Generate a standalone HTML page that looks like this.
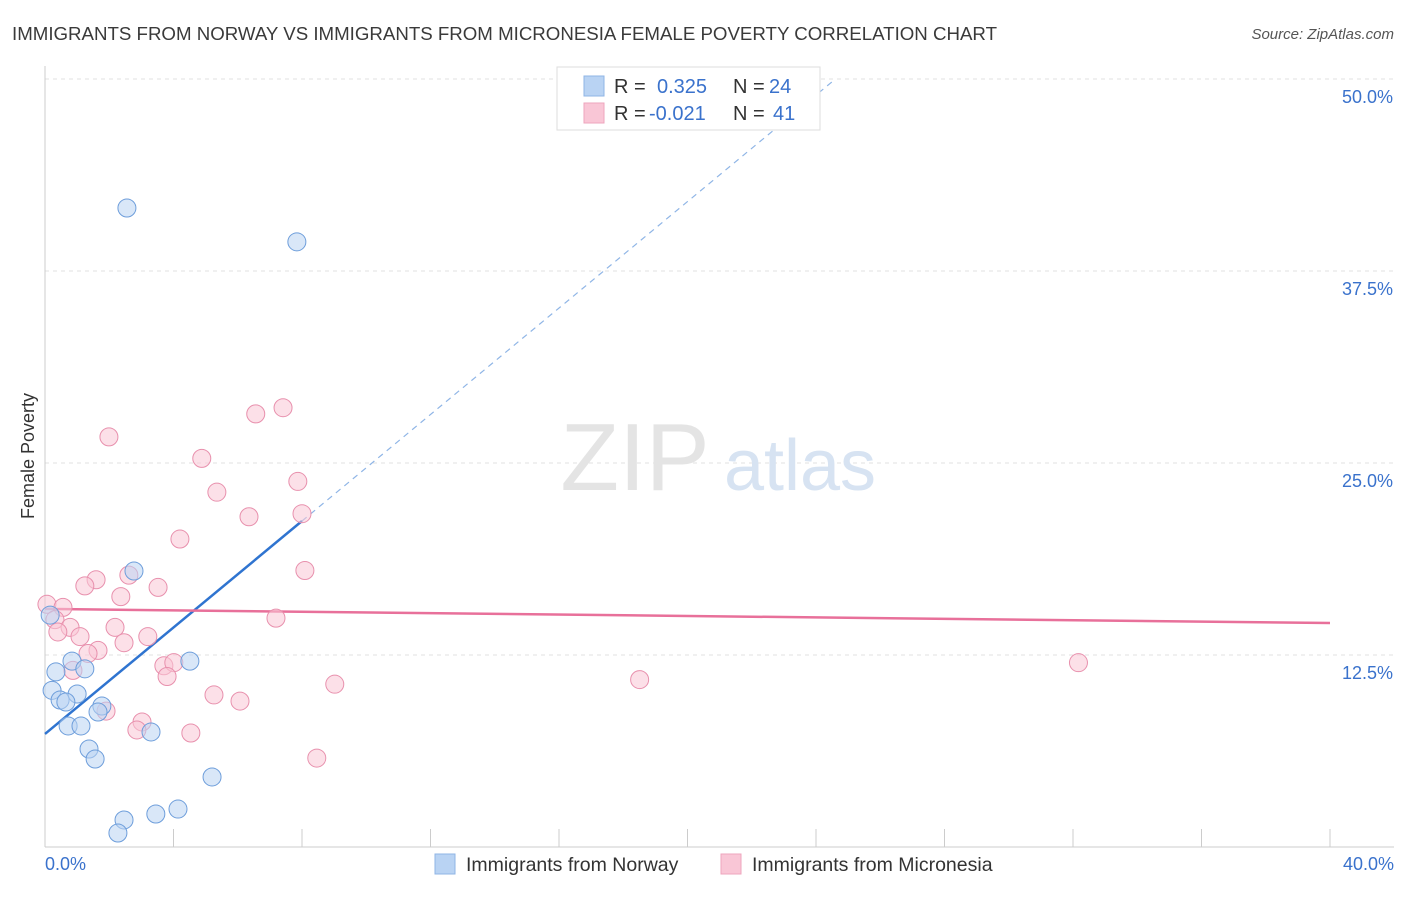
<!DOCTYPE html>
<html><head><meta charset="utf-8">
<style>
body{margin:0;background:#fff;font-family:"Liberation Sans",sans-serif;}
svg text{font-family:"Liberation Sans",sans-serif;}
</style></head>
<body>
<svg id="chart" width="1406" height="892" xmlns="http://www.w3.org/2000/svg">
<text x="12" y="40" font-size="18.7" fill="#3a3a3a" textLength="985">IMMIGRANTS FROM NORWAY VS IMMIGRANTS FROM MICRONESIA FEMALE POVERTY CORRELATION CHART</text>
<text x="1394" y="39" font-size="15" fill="#555" text-anchor="end" font-style="italic">Source: ZipAtlas.com</text>
<g id="grid"></g>
<g>
<text x="635" y="490" font-size="96" fill="#e4e4e4" font-family="Liberation Serif,serif" text-anchor="middle">ZIP</text>
<text x="800" y="490" font-size="72" fill="#d7e3f2" text-anchor="middle">atlas</text>
</g>
<g id="axes"></g>
<g id="trends"></g>
<g id="points"></g>
<text transform="translate(34,456) rotate(-90)" font-size="18" fill="#333" text-anchor="middle">Female Poverty</text>
<g>
<rect x="557" y="67" width="263" height="63" fill="#fff" stroke="#ddd"/>
<rect x="584" y="76" width="20" height="20" fill="#b9d3f3" stroke="#8fb5e6"/>
<rect x="584" y="103" width="20" height="20" fill="#f9c6d6" stroke="#eea5bd"/>
<text x="614" y="93" font-size="20" fill="#333">R = </text>
<text x="657" y="93" font-size="20" fill="#3a72cc">0.325</text>
<text x="733" y="93" font-size="20" fill="#333">N = </text>
<text x="769" y="93" font-size="20" fill="#3a72cc">24</text>
<text x="614" y="120" font-size="20" fill="#333">R = </text>
<text x="649" y="120" font-size="20" fill="#3a72cc">-0.021</text>
<text x="733" y="120" font-size="20" fill="#333">N = </text>
<text x="773" y="120" font-size="20" fill="#3a72cc">41</text>
</g>
<g>
<rect x="435" y="854" width="20" height="20" fill="#b9d3f3" stroke="#8fb5e6"/>
<text x="466" y="871" font-size="19.5" fill="#333">Immigrants from Norway</text>
<rect x="721" y="854" width="20" height="20" fill="#f9c6d6" stroke="#eea5bd"/>
<text x="752" y="871" font-size="19.5" fill="#333">Immigrants from Micronesia</text>
</g>
</svg>
<script>
const yTicks=[12.5,25,37.5,50];
const yTickLabels=["12.5%","25.0%","37.5%","50.0%"];
const xTicks=[0,4,8,12,16,20,24,28,32,36,40];
const norwayX=[2.55,7.84,2.77,4.51,0.84,1.24,0.34,0.22,1.0,0.47,0.65,1.77,1.65,0.72,1.12,3.30,1.37,1.56,5.20,4.14,3.45,2.46,2.27,0.16];
const norwayY=[41.6,39.4,17.97,12.1,12.1,11.6,11.4,10.2,9.96,9.57,9.44,9.18,8.79,7.88,7.88,7.49,6.38,5.73,4.56,2.47,2.15,1.76,0.91,15.1];
const micronesiaX=[1.99,6.56,7.41,4.88,5.35,7.87,6.35,8.0,4.2,8.09,2.61,1.59,1.24,3.52,2.36,0.06,0.56,0.31,7.19,0.78,0.4,2.18,1.09,3.2,2.46,1.65,1.34,3.7,4.01,0.87,3.8,5.26,6.07,9.02,18.51,32.17,1.9,3.02,2.86,4.54,8.46];
const micronesiaY=[26.7,28.2,28.6,25.3,23.1,23.8,21.5,21.7,20.05,18.0,17.7,17.4,17.0,16.9,16.3,15.8,15.6,14.8,14.9,14.3,14.0,14.3,13.7,13.7,13.3,12.8,12.6,11.8,12.0,11.5,11.1,9.9,9.5,10.6,10.9,12.0,8.85,8.14,7.62,7.42,5.79];
const norwayTrend=[7.36,1.733];
const micronesiaTrend=[15.5,-0.023];
const NS="http://www.w3.org/2000/svg";
const xs=v=>45+v*(1285/40);
const ys=v=>847-v*15.36;
function mk(tag,parent,attrs){const e=document.createElementNS(NS,tag);for(const k in attrs)e.setAttribute(k,attrs[k]);document.getElementById(parent).appendChild(e);return e;}
yTicks.forEach((t,i)=>{
 const l=mk('line','grid',{x1:45,x2:1394,y1:ys(t),y2:ys(t),stroke:'#e2e2e2','stroke-dasharray':'4,4'});
 
 
 const tx=mk('text','axes',{x:1393,y:ys(t)+24,'font-size':18,fill:'#3a72cc','text-anchor':'end'});
 tx.textContent=yTickLabels[i];
 
 
});
const ax=mk('line','axes',{x1:45,x2:45,y1:66,y2:847,stroke:'#ccc'});


const bx=mk('line','axes',{x1:45,x2:1394,y1:847,y2:847,stroke:'#ccc'});


xTicks.forEach(t=>{
 const l=mk('line','axes',{x1:xs(t),x2:xs(t),y1:829,y2:847,stroke:'#ccc'});
 
 
});
[[0,'0.0%','start',45],[40,'40.0%','end',1394]].forEach(a=>{
 const t=mk('text','axes',{x:a[3],y:870,'font-size':18,fill:'#3a72cc','text-anchor':a[2]});
 t.textContent=a[1];
 
 
});
function pts(X,Y,fill,stroke,name){X.forEach((x,i)=>{
 const c=mk('circle','points',{cx:xs(x),cy:ys(Y[i]),r:9,fill:fill,'fill-opacity':0.55,stroke:stroke,'stroke-width':1});
 
 
});}
pts(micronesiaX,micronesiaY,'#f9c6d6','#e890ad','micronesia-point');
pts(norwayX,norwayY,'#b9d3f3','#6e9edb','norway-point');
const nb=mk('line','trends',{x1:xs(0),y1:ys(norwayTrend[0]),x2:xs(8),y2:ys(norwayTrend[0]+8*norwayTrend[1]),stroke:'#2f74d0','stroke-width':2.5});


const xe=(50-norwayTrend[0])/norwayTrend[1];
const nd=mk('line','trends',{x1:xs(8),y1:ys(norwayTrend[0]+8*norwayTrend[1]),x2:xs(xe),y2:ys(50),stroke:'#8fb5e6','stroke-width':1.2,'stroke-dasharray':'6,5'});


const mt=mk('line','trends',{x1:xs(0),y1:ys(micronesiaTrend[0]),x2:xs(40),y2:ys(micronesiaTrend[0]+40*micronesiaTrend[1]),stroke:'#e8709a','stroke-width':2.5});


</script>
</body></html>
